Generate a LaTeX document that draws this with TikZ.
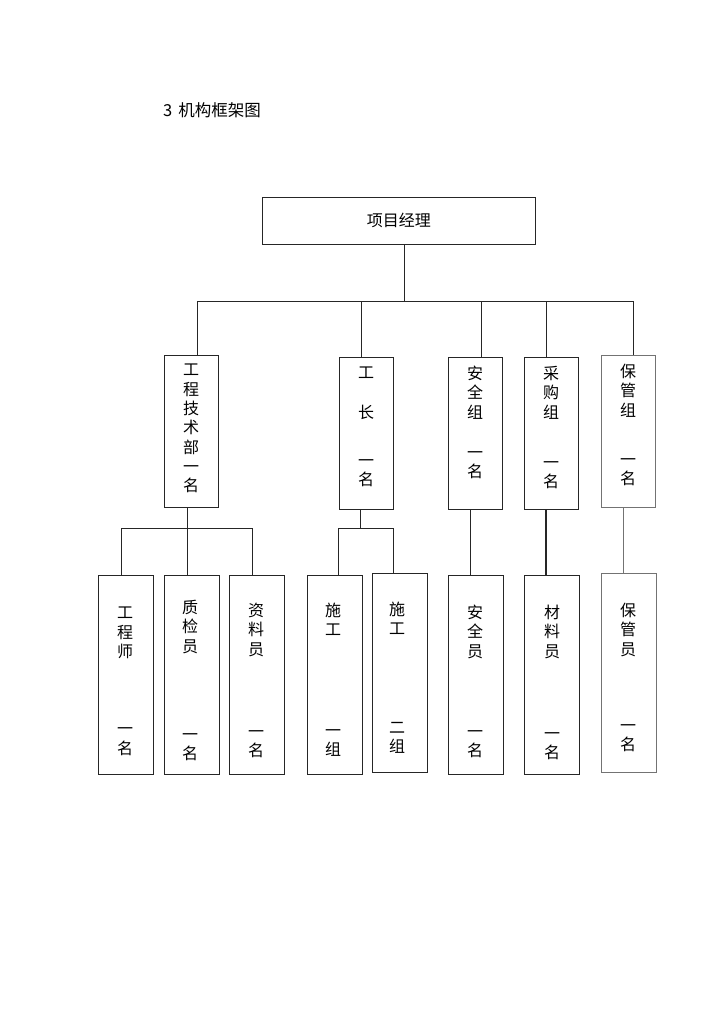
\documentclass[tikz,border=0pt]{standalone}
\usepackage{fontspec}
\newfontfamily\cjk{Noto Sans CJK SC}
\usetikzlibrary{positioning}

\tikzset{
  unit/.style={draw=black!85, line width=0.8pt, inner sep=0pt, fill=white},
  topbox/.style={unit, minimum width=273pt, minimum height=47pt, font=\cjk\fontsize{16}{19}\selectfont},
  midbox/.style={unit, minimum width=54pt, minimum height=152pt},
  lowbox/.style={unit, minimum width=55pt, minimum height=199pt},
  vtext/.style={font=\cjk\fontsize{16}{19.3}\selectfont, align=center, anchor=north, inner sep=0pt},
  link/.style={line width=0.8pt, black!85},
}

\begin{document}
\begin{tikzpicture}[x=1pt, y=-1pt]
    \useasboundingbox[fill=white] (0,0) rectangle (724,1024);
    \node[font=\cjk\fontsize{16.5}{19}\selectfont, anchor=west, inner sep=0pt] (title) at (163,110) {3\hspace{6pt}机构框架图};

    % manager
    \node[topbox, anchor=north west] (pm) at (262,197) {项目经理};

    % second level
    \node[midbox, anchor=north west] (jsb) at (164,355) {};
    \node[midbox, anchor=north west] (gz) at (339,357) {};
    \node[midbox, anchor=north west] (aq) at (448,357) {};
    \node[midbox, anchor=north west] (cg) at (524,357) {};
    \node[midbox, anchor=north west, draw=black!55] (bg) at (601,355) {};

    \node[vtext] (jsb-t) at (191,364) {工\\程\\技\\术\\部\\一\\名};
    \node[vtext] (gz-t) at (366,367) {工\\[20pt]长\\[29pt]一\\名};
    \node[vtext] (aq-t) at (475,366) {安\\全\\组\\[21pt]一\\名};
    \node[vtext] (cg-t) at (551,366) {采\\购\\组\\[31pt]一\\名};
    \node[vtext] (bg-t) at (628,364) {保\\管\\组\\[30pt]一\\名};

    % third level
    \node[lowbox, anchor=north west] (gcs) at (98,575) {};
    \node[lowbox, anchor=north west] (zjy) at (164,575) {};
    \node[lowbox, anchor=north west] (zly) at (229,575) {};
    \node[lowbox, anchor=north west] (sg1) at (307,575) {};
    \node[lowbox, anchor=north west] (sg2) at (372,573) {};
    \node[lowbox, anchor=north west] (aqy) at (448,575) {};
    \node[lowbox, anchor=north west] (cly) at (524,575) {};
    \node[lowbox, anchor=north west, draw=black!55] (bgy) at (601,573) {};

    \node[vtext] (gcs-t) at (125,607) {工\\程\\师\\[58pt]一\\名};
    \node[vtext] (zjy-t) at (190,600) {质\\检\\员\\[69pt]一\\名};
    \node[vtext] (zly-t) at (256,603) {资\\料\\员\\[63pt]一\\名};
    \node[vtext] (sg1-t) at (333,603) {施\\工\\[81pt]一\\组};
    \node[vtext] (sg2-t) at (397,602) {施\\工\\[79pt]二\\组};
    \node[vtext] (aqy-t) at (475,605) {安\\全\\员\\[61pt]一\\名};
    \node[vtext] (cly-t) at (552,605) {材\\料\\员\\[63pt]一\\名};
    \node[vtext] (bgy-t) at (628,603) {保\\管\\员\\[57pt]一\\名};

    % connectors
    \coordinate (top) at (404,301);
    \coordinate (d1) at (197,301);
    \coordinate (d2) at (361,301);
    \coordinate (d3) at (481,301);
    \coordinate (d4) at (546,301);
    \coordinate (d5) at (633,301);
    \draw[link] (pm.south -| top) -- (top);
    \draw[link] (d1) -- (d5);
    \foreach \d/\b in {d1/jsb, d2/gz, d3/aq, d4/cg, d5/bg}
        \draw[link] (\d) -- (\d |- \b.north);

    \coordinate (e1) at (121,528);
    \coordinate (e2) at (187,528);
    \coordinate (e3) at (252,528);
    \draw[link] (jsb.south -| e2) -- (e2);
    \draw[link] (e1) -- (e3);
    \foreach \d/\b in {e1/gcs, e2/zjy, e3/zly}
        \draw[link] (\d) -- (\d |- \b.north);

    \coordinate (f0) at (360,528);
    \coordinate (f1) at (338,528);
    \coordinate (f2) at (393,528);
    \draw[link] (gz.south -| f0) -- (f0);
    \draw[link] (f1) -- (f2);
    \foreach \d/\b in {f1/sg1, f2/sg2}
        \draw[link] (\d) -- (\d |- \b.north);

    \coordinate (g1) at (470,540);
    \coordinate (g2) at (546,540);
    \coordinate (g3) at (623,540);
    \draw[link] (aq.south -| g1) -- (aqy.north -| g1);
    \draw[link, line width=1.2pt] (cg.south -| g2) -- (cly.north -| g2);
    \draw[link, black!55] (bg.south -| g3) -- (bgy.north -| g3);
\end{tikzpicture}
\end{document}
